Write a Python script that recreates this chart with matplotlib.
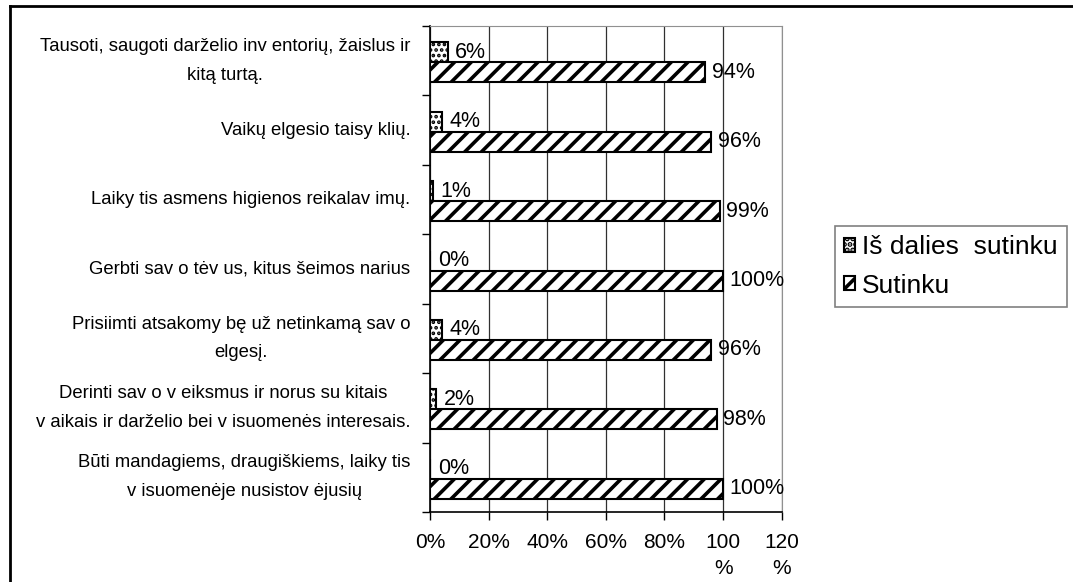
import matplotlib
matplotlib.use("Agg")
import matplotlib.pyplot as plt
from matplotlib.lines import Line2D
import numpy as np

# === Données ===
categories = [
    "Tausoti, saugoti darželio inv entorių, žaislus ir\nkitą turtą.",
    "Vaikų elgesio taisy klių.",
    "Laiky tis asmens higienos reikalav imų.",
    "Gerbti sav o tėv us, kitus šeimos narius",
    "Prisiimti atsakomy bę už netinkamą sav o\nelgesį.",
    "Derinti sav o v eiksmus ir norus su kitais\nv aikais ir darželio bei v isuomenės interesais.",
    "Būti mandagiems, draugiškiems, laiky tis\nv isuomenėje nusistov ėjusių",
]
is_dalies = [6, 4, 1, 0, 4, 2, 0]
sutinku = [94, 96, 99, 100, 96, 98, 100]
xticks = [0, 20, 40, 60, 80, 100, 120]
xtick_labels = ["0%", "20%", "40%", "60%", "80%", "100\n%", "120\n%"]
series_names = ["Iš dalies  sutinku", "Sutinku"]

plt.rcParams['font.family'] = ['Liberation Sans', 'DejaVu Sans']

fig = plt.figure(figsize=(10.73, 5.82), dpi=100)
ax = fig.add_axes([430 / 1073, 1 - 512 / 582, 351.7 / 1073, 486 / 582])

n = len(categories)
y = np.arange(n)[::-1].astype(float)  # premier en haut
h = 0.288

plt.rcParams['hatch.linewidth'] = 1.8
b1 = ax.barh(y + 0.122, is_dalies, height=h, color='white', edgecolor='black',
             hatch='...', linewidth=1.5, label=series_names[0], zorder=3)
plt.rcParams['hatch.linewidth'] = 2.6
b2 = ax.barh(y - 0.166, sutinku, height=h, color='white', edgecolor='black',
             hatch='//', linewidth=1.5, label=series_names[1], zorder=3)

# étiquettes des valeurs
for yy, v in zip(y + 0.122, is_dalies):
    ax.annotate(f"{v}%", (v, yy), xytext=(5.5, 0), textcoords='offset points',
                ha='left', va='center', fontsize=15.5)
for yy, v in zip(y - 0.166, sutinku):
    ax.annotate(f"{v}%", (v, yy), xytext=(4.5, 0), textcoords='offset points',
                ha='left', va='center', fontsize=15.5, zorder=4)

ax.set_xlim(0, 120)
ax.set_ylim(-0.5, n - 0.5)
ax.set_xticks(xticks)
ax.set_xticklabels(xtick_labels, fontsize=15, linespacing=1.5)
ax.tick_params(axis='x', direction='out', length=6, width=1, pad=9)

ax.set_yticks(y)
ax.set_yticklabels(categories, fontsize=13.3, multialignment='center',
                   linespacing=1.9, va='center')
ax.tick_params(axis='y', which='major', length=0, pad=14)
ax.set_yticks(np.arange(n + 1) - 0.5, minor=True)
ax.tick_params(axis='y', which='minor', length=6, width=1, direction='out')

ax.grid(axis='x', color='#303030', linewidth=0.9, zorder=0)
ax.set_axisbelow(True)
for s in ['top', 'right']:
    ax.spines[s].set_color('#909090')
for s in ['left', 'bottom']:
    ax.spines[s].set_color('black')
    ax.spines[s].set_linewidth(1.2)

leg = fig.legend(handles=[b1, b2], loc='upper left',
                 bbox_to_anchor=(835 / 1073, 1 - 226 / 582),
                 frameon=True, fancybox=False, edgecolor='#606060',
                 fontsize=19, handlelength=0.42, handleheight=0.42,
                 handletextpad=0.25, labelspacing=0.55, borderpad=0.35,
                 borderaxespad=0)
leg.get_frame().set_linewidth(1.2)

# cadre extérieur
fig.add_artist(Line2D([10 / 1073, 10 / 1073], [0, 1 - 6 / 582], color='black', linewidth=2))
fig.add_artist(Line2D([10 / 1073, 1], [1 - 6 / 582, 1 - 6 / 582], color='black', linewidth=2))

fig.savefig("out.png", dpi=100)
